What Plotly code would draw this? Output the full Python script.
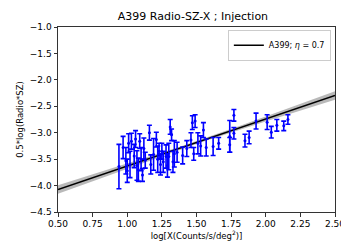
import numpy as np
import plotly.graph_objects as go

# data: x = log X, y = 0.5*log(Radio*SZ), err = error half-width
x_vals = [0.94, 0.97, 0.99, 1.00, 1.01, 1.03, 1.05, 1.06, 1.07, 1.08,
          1.09, 1.10, 1.11, 1.13, 1.16, 1.19, 1.21, 1.22, 1.23, 1.24,
          1.26, 1.28, 1.30, 1.31, 1.32, 1.33, 1.34, 1.36, 1.40, 1.43,
          1.46, 1.47, 1.48, 1.49, 1.51, 1.53, 1.55, 1.57, 1.62, 1.66,
          1.74, 1.74, 1.77, 1.77, 1.85, 1.88, 1.93, 2.01, 2.04, 2.08,
          2.13, 2.16, 1.02, 1.12, 1.17, 1.25, 1.29]
y_vals = [-3.64, -3.28, -3.53, -3.72, -3.20, -3.16, -3.44, -3.12, -3.62, -3.70,
          -3.16, -3.50, -3.80, -3.52, -3.00, -3.41, -3.13, -3.50, -3.35, -3.60,
          -3.55, -3.45, -3.45, -2.89, -3.04, -3.55, -3.40, -3.37, -3.43, -3.30,
          -3.14, -2.81, -3.40, -2.78, -3.20, -3.25, -2.95, -3.28, -3.26, -3.20,
          -3.07, -3.23, -2.67, -3.01, -3.15, -3.09, -2.78, -2.80, -2.99, -2.86,
          -2.87, -2.75, -3.60, -3.30, -3.60, -3.35, -3.62]
err_vals = [0.42, 0.21, 0.25, 0.22, 0.18, 0.15, 0.22, 0.16, 0.28, 0.22,
            0.14, 0.22, 0.12, 0.15, 0.14, 0.30, 0.14, 0.25, 0.15, 0.20,
            0.20, 0.22, 0.25, 0.14, 0.11, 0.20, 0.25, 0.19, 0.16, 0.15,
            0.14, 0.13, 0.12, 0.12, 0.20, 0.19, 0.14, 0.16, 0.17, 0.11,
            0.30, 0.14, 0.11, 0.11, 0.12, 0.12, 0.15, 0.14, 0.11, 0.11,
            0.09, 0.09, 0.25, 0.20, 0.18, 0.15, 0.22]

# fit parameters
slope = 0.889
intercept_at_05 = -4.074
band_s0 = 0.025
band_s1 = 0.075
band_xm = 1.5

x_ticks = [0.50, 0.75, 1.00, 1.25, 1.50, 1.75, 2.00, 2.25, 2.50]
y_ticks = [-1.0, -1.5, -2.0, -2.5, -3.0, -3.5, -4.0, -4.5]

xf = np.linspace(0.5, 2.5, 101)
yf = intercept_at_05 + slope * (xf - 0.5)
hw = np.sqrt(band_s0**2 + (band_s1 * (xf - band_xm))**2)

fig = go.Figure()
fig.add_trace(go.Scatter(x=xf, y=yf + hw, mode="lines", line=dict(width=0),
                         showlegend=False, hoverinfo="skip"))
fig.add_trace(go.Scatter(x=xf, y=yf - hw, mode="lines", line=dict(width=0),
                         fill="tonexty", fillcolor="rgba(128,128,128,0.55)",
                         showlegend=False, hoverinfo="skip"))
fig.add_trace(go.Scatter(x=xf, y=yf, mode="lines", line=dict(color="black", width=1.6),
                         name="A399; <i>η</i> = 0.7"))
fig.add_trace(go.Scatter(x=x_vals, y=y_vals, mode="markers",
                         marker=dict(color="blue", size=3),
                         error_y=dict(type="data", array=err_vals, color="blue",
                                      thickness=1.6, width=2.5),
                         showlegend=False))

axis_common = dict(showgrid=False, zeroline=False, showline=True, linecolor="#333",
                   linewidth=1, mirror=True, ticks="outside", ticklen=3.5,
                   tickcolor="#333", tickfont=dict(size=9, color="black"))

fig.update_layout(
    width=349, height=243,
    margin=dict(l=45, r=16, t=19, b=35),
    paper_bgcolor="white", plot_bgcolor="white",
    font=dict(family="DejaVu Sans", color="black"),
    title=dict(text="A399 Radio-SZ-X ; Injection", x=0.53, xanchor="center",
               y=0.965, yanchor="middle", font=dict(size=11)),
    xaxis=dict(range=[0.5, 2.5], tickvals=x_ticks, tickformat=".2f",
               title=dict(text="log[X(Counts/s/deg<sup>2</sup>)]", font=dict(size=8.5),
                          standoff=4),
               **axis_common),
    yaxis=dict(range=[-4.5, -1.0], tickvals=y_ticks, tickformat=".1f",
               title=dict(text="0.5*log(Radio*SZ)", font=dict(size=8.5), standoff=4),
               **axis_common),
    legend=dict(x=0.985, y=0.985, xanchor="right", yanchor="top",
                bgcolor="white", bordercolor="#ccc", borderwidth=1,
                font=dict(size=8)),
)

fig.write_html("out.html")
